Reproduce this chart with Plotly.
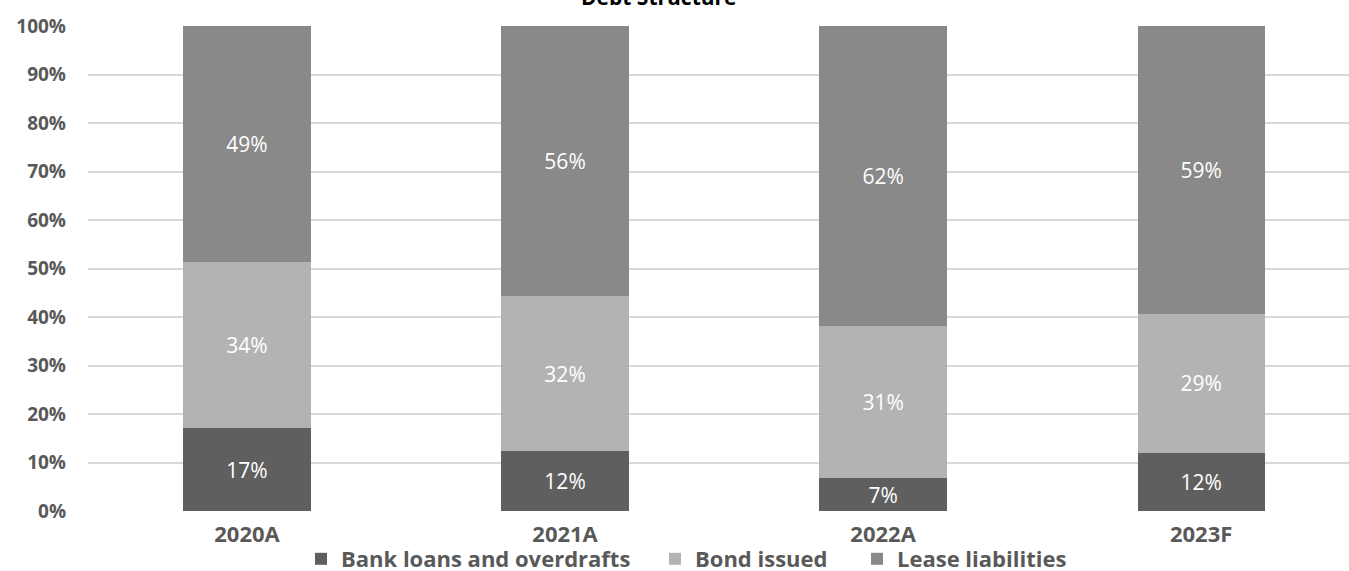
import plotly.graph_objects as go

categories = ["2020A", "2021A", "2022A", "2023F"]
bank_loans = [17.1, 12.4, 6.8, 12.0]
bonds = [34.2, 31.9, 31.3, 28.6]
leases = [48.7, 55.7, 61.9, 59.4]
series_names = ["Bank loans and overdrafts", "Bond issued", "Lease liabilities"]
y_ticks = [0, 10, 20, 30, 40, 50, 60, 70, 80, 90, 100]
y_tick_labels = [f"{v}%" for v in y_ticks]

colors = ["#5f5f5f", "#b3b3b3", "#898989"]
legend_ids = ["legend", "legend2", "legend3"]
legend_left_px = [301, 655, 857]
FONT = "Open Sans"

W, H = 1349, 571
ml, mr, mt, mb = 88, 0, 26, 60
pw, ph = W - ml - mr, H - mt - mb


def px_to_paper_x(px):
    return (px - ml) / pw


def px_to_paper_y(py):
    return 1 - (py - mt) / ph


fig = go.Figure()
for name, vals, col, lid in zip(series_names, [bank_loans, bonds, leases], colors, legend_ids):
    fig.add_trace(go.Bar(
        x=categories, y=vals, name=name, legend=lid,
        marker=dict(color=col, line=dict(width=0)),
        texttemplate="%{y:.0f}%", textposition="inside",
        insidetextanchor="middle", constraintext="none",
        textfont=dict(family=FONT, size=21, color="white"),
        hoverinfo="skip",
    ))

legend_font = dict(family=FONT, size=22, color="#595959", weight="bold")
legends = {}
for lid, lx in zip(legend_ids, legend_left_px):
    legends[lid] = dict(
        orientation="h", x=px_to_paper_x(lx), xanchor="left",
        y=px_to_paper_y(559), yanchor="middle",
        font=legend_font, itemclick=False, bgcolor="rgba(0,0,0,0)",
    )

fig.update_layout(
    width=W, height=H,
    barmode="stack", bargap=0.6,
    margin=dict(l=ml, r=mr, t=mt, b=mb, pad=0, autoexpand=False),
    plot_bgcolor="white", paper_bgcolor="white",
    font=dict(family=FONT, color="#595959"),
    showlegend=True,
    xaxis=dict(
        range=[-0.5, 3.465], showgrid=False, showline=False, zeroline=False,
        automargin=False,
        tickfont=dict(family=FONT, size=22, color="#595959", weight="bold"),
        ticks="", ticklabelstandoff=8,
    ),
    yaxis=dict(
        range=[0, 100], tickmode="array", tickvals=y_ticks, ticktext=y_tick_labels,
        showgrid=True, gridcolor="#d9d9d9", gridwidth=1.5,
        zeroline=False, showline=False, automargin=False,
        tickfont=dict(family=FONT, size=19, color="#595959", weight="bold"),
        ticks="", ticklabelstandoff=21,
    ),
    annotations=[dict(
        text="Debt Structure", xref="paper", yref="paper",
        x=px_to_paper_x(659), y=px_to_paper_y(-3), xanchor="center", yanchor="middle",
        showarrow=False,
        font=dict(family=FONT, size=21, color="black", weight="bold"),
    )],
    **legends,
)

fig.write_html(
    "out.html",
    config={"displayModeBar": False},
    post_script="document.body.style.margin='0';",
)
